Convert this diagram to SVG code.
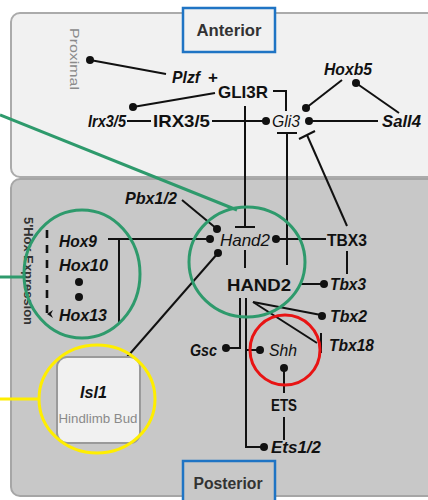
<svg xmlns="http://www.w3.org/2000/svg" width="428" height="500" viewBox="0 0 428 500">
<style>
.g{font-family:"Liberation Sans",Arial,sans-serif;font-style:italic;font-weight:bold;font-size:16.5px;fill:#111}
.gi{font-family:"Liberation Sans",Arial,sans-serif;font-style:italic;font-size:17px;fill:#111}
.p{font-family:"Liberation Sans",Arial,sans-serif;font-weight:bold;font-size:17px;fill:#111}
.lab{font-family:"Liberation Sans",Arial,sans-serif;font-weight:bold;font-size:16px;fill:#333}
.gray{font-family:"Liberation Sans",Arial,sans-serif;font-size:12.5px;fill:#8a8a8a}
.ln{stroke:#111;stroke-width:2;fill:none}
.dot{fill:#111}
.grn{stroke:#2e9a6c;stroke-width:3;fill:none}
</style>
<defs>
<marker id="ah" markerWidth="8" markerHeight="8" refX="4" refY="6" orient="auto" markerUnits="userSpaceOnUse">
<path d="M0,0 L4,6 L8,0 L4,2 Z" fill="#111"/>
</marker>
</defs>

<g id="panels">
<rect x="11" y="13" width="440" height="164" rx="9" fill="#f1f1f1" stroke="#ababab" stroke-width="2"/>
<rect x="11" y="179" width="440" height="317" rx="9" fill="#c8c8c8" stroke="#a6a6a6" stroke-width="2"/>
</g>

<g id="anterior">
<rect x="183" y="8" width="92" height="44" fill="#f1f1f1" stroke="#1f74c4" stroke-width="2.5"/>
<text class="lab" x="229" y="36" text-anchor="middle" textLength="65" lengthAdjust="spacingAndGlyphs">Anterior</text>
</g>
<g id="posterior">
<rect x="183" y="461" width="92" height="45" fill="#c8c8c8" stroke="#1f74c4" stroke-width="2.5"/>
<text class="lab" x="228" y="489" text-anchor="middle" textLength="69" lengthAdjust="spacingAndGlyphs">Posterior</text>
</g>
<g id="proximal">
<text class="gray" transform="translate(70,59) rotate(90)" text-anchor="middle" font-size="13" textLength="62" lengthAdjust="spacingAndGlyphs">Proximal</text>
</g>
<g id="hox-expression">
<text transform="translate(24,271) rotate(90)" text-anchor="middle" font-family="Liberation Sans, Arial, sans-serif" font-weight="bold" font-size="12.5" fill="#333" textLength="108" lengthAdjust="spacingAndGlyphs">5'Hox Expression</text>
<line x1="47" y1="230" x2="47" y2="314" stroke="#111" stroke-width="2.6" stroke-dasharray="8,7" marker-end="url(#ah)"/>
</g>

<g id="connectors">
<line class="ln" x1="90" y1="60" x2="166" y2="74"/>
<line class="ln" x1="133" y1="107" x2="215" y2="93"/>
<line class="ln" x1="127" y1="121" x2="151" y2="121"/>
<line class="ln" x1="212" y1="121" x2="264" y2="121"/>
<polyline class="ln" points="273,91 286,91 286,111"/>
<line class="ln" x1="245" y1="106" x2="245" y2="227"/>
<line class="ln" x1="235" y1="227" x2="255" y2="227"/>
<line class="ln" x1="342" y1="80" x2="306" y2="108"/>
<line class="ln" x1="356" y1="83" x2="399" y2="113"/>
<line class="ln" x1="309" y1="121" x2="378" y2="121"/>
<line class="ln" x1="287" y1="133" x2="287" y2="265"/>
<line class="ln" x1="277" y1="133" x2="297" y2="133"/>
<line class="ln" x1="347" y1="226" x2="307" y2="135"/>
<line class="ln" x1="299" y1="139" x2="315" y2="131"/>
<line class="ln" x1="182" y1="200" x2="217" y2="229"/>
<line class="ln" x1="108" y1="239" x2="210" y2="239"/>
<line class="ln" x1="119" y1="239" x2="119" y2="323"/>
<line class="ln" x1="107" y1="380" x2="218" y2="253"/>
<line class="ln" x1="276" y1="239" x2="326" y2="239"/>
<line class="ln" x1="245" y1="250" x2="245" y2="268"/>
<line class="ln" x1="347" y1="251" x2="347" y2="274"/>
<line class="ln" x1="301" y1="284" x2="324" y2="284"/>
<line class="ln" x1="253" y1="302" x2="321" y2="315"/>
<line class="ln" x1="253" y1="302" x2="317" y2="343"/>
<line class="ln" x1="321" y1="333" x2="321" y2="353"/>
<polyline class="ln" points="240,298 240,348 226,348"/>
<polyline class="ln" points="246,298 246,447 264,447"/>
<line class="ln" x1="246" y1="350" x2="260" y2="350"/>
<line class="ln" x1="284" y1="368" x2="284" y2="393"/>
<line class="ln" x1="284" y1="417" x2="284" y2="440"/>
<circle class="dot" cx="90" cy="60" r="4"/>
<circle class="dot" cx="133" cy="107" r="4"/>
<circle class="dot" cx="266" cy="121" r="4"/>
<circle class="dot" cx="309" cy="121" r="4"/>
<circle class="dot" cx="306" cy="108" r="4"/>
<circle class="dot" cx="356" cy="83" r="4"/>
<circle class="dot" cx="217" cy="229" r="4"/>
<circle class="dot" cx="210" cy="239" r="4"/>
<circle class="dot" cx="218" cy="253" r="4"/>
<circle class="dot" cx="276" cy="239" r="4"/>
<circle class="dot" cx="324" cy="284" r="4"/>
<circle class="dot" cx="322" cy="316" r="4"/>
<circle class="dot" cx="226" cy="348" r="4"/>
<circle class="dot" cx="260" cy="350" r="4"/>
<circle class="dot" cx="264" cy="447" r="4"/>
<circle class="dot" cx="284" cy="368" r="4"/>
<circle class="dot" cx="79" cy="282" r="4"/>
<circle class="dot" cx="79" cy="297" r="4"/>
</g>

<g id="plzf"><text class="g" x="172" y="83" textLength="28" lengthAdjust="spacingAndGlyphs">Plzf</text><text class="p" x="213" y="83" text-anchor="middle">+</text></g>
<g id="gli3r"><text class="p" x="218" y="98" font-size="18" textLength="50" lengthAdjust="spacingAndGlyphs">GLI3R</text></g>
<g id="hoxb5"><text class="g" x="324" y="75" textLength="48" lengthAdjust="spacingAndGlyphs">Hoxb5</text></g>
<g id="irx35-gene"><text class="g" x="88" y="127" textLength="38" lengthAdjust="spacingAndGlyphs">Irx3/5</text></g>
<g id="irx35-protein"><text class="p" x="153" y="127" textLength="57" lengthAdjust="spacingAndGlyphs">IRX3/5</text></g>
<g id="gli3"><text class="gi" x="272" y="127" textLength="28" lengthAdjust="spacingAndGlyphs">Gli3</text></g>
<g id="sall4"><text class="g" x="382" y="127" textLength="39" lengthAdjust="spacingAndGlyphs">Sall4</text></g>
<g id="pbx12"><text class="g" x="125" y="204" textLength="52" lengthAdjust="spacingAndGlyphs">Pbx1/2</text></g>
<g id="hox"><text class="g" x="59" y="247" textLength="38" lengthAdjust="spacingAndGlyphs">Hox9</text><text class="g" x="59" y="271" textLength="49" lengthAdjust="spacingAndGlyphs">Hox10</text><text class="g" x="59" y="321" textLength="48" lengthAdjust="spacingAndGlyphs">Hox13</text></g>
<g id="hand2-gene"><text class="gi" x="220" y="246" textLength="50" lengthAdjust="spacingAndGlyphs">Hand2</text></g>
<g id="tbx3-protein"><text class="p" x="327" y="246" textLength="40" lengthAdjust="spacingAndGlyphs">TBX3</text></g>
<g id="hand2-protein"><text class="p" x="227" y="291" font-size="20" textLength="64" lengthAdjust="spacingAndGlyphs">HAND2</text></g>
<g id="tbx3"><text class="g" x="330" y="290" textLength="36" lengthAdjust="spacingAndGlyphs">Tbx3</text></g>
<g id="tbx2"><text class="g" x="330" y="322" textLength="37" lengthAdjust="spacingAndGlyphs">Tbx2</text></g>
<g id="tbx18"><text class="g" x="329" y="351" textLength="45" lengthAdjust="spacingAndGlyphs">Tbx18</text></g>
<g id="gsc"><text class="g" x="190" y="356" textLength="27" lengthAdjust="spacingAndGlyphs">Gsc</text></g>
<g id="shh"><text class="gi" x="269" y="356" textLength="28" lengthAdjust="spacingAndGlyphs">Shh</text></g>
<g id="ets"><text class="p" x="271" y="411" font-size="16" textLength="26" lengthAdjust="spacingAndGlyphs">ETS</text></g>
<g id="ets12"><text class="g" x="271" y="453" textLength="50" lengthAdjust="spacingAndGlyphs">Ets1/2</text></g>
<g id="hindlimb-bud">
<rect x="57" y="357" width="83" height="86" rx="10" fill="#f1f1f1" stroke="#9a9a9a" stroke-width="2"/>
<text class="g" x="80" y="398" textLength="27" lengthAdjust="spacingAndGlyphs">Isl1</text>
<text class="gray" x="98" y="423" text-anchor="middle" textLength="79" lengthAdjust="spacingAndGlyphs">Hindlimb Bud</text>
</g>

<g id="highlights">
<line class="grn" x1="0" y1="115" x2="237" y2="210"/>
<ellipse class="grn" cx="247" cy="262" rx="58" ry="55"/>
<line class="grn" x1="0" y1="277" x2="24" y2="277"/>
<ellipse class="grn" cx="82" cy="274" rx="58" ry="64"/>
<circle cx="285" cy="350" r="35" fill="none" stroke="#e81414" stroke-width="3"/>
<line x1="0" y1="399" x2="39" y2="399" stroke="#ffee00" stroke-width="3"/>
<ellipse cx="97" cy="399" rx="58" ry="54" fill="none" stroke="#ffee00" stroke-width="3"/>
</g>
</svg>
